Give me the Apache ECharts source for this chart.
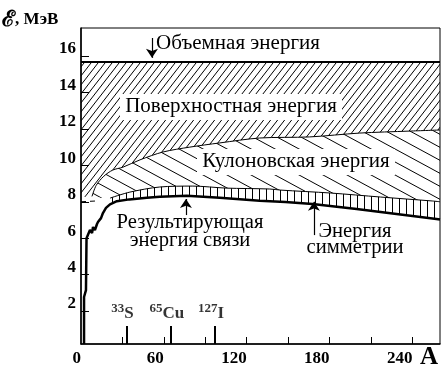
<!DOCTYPE html>
<html><head><meta charset="utf-8">
<script src="https://cdn.jsdelivr.net/npm/echarts@6/dist/echarts.min.js"></script>
<style>html,body{margin:0;padding:0;background:#fff}#c{width:447px;height:374px}</style>
</head><body><div id="c"></div>
<script>
// ---- data ----
const xTickValues = [30, 60, 90, 120, 150, 180, 210, 240];
const xLabelValues = [0, 60, 120, 180, 240];
const yTickValues = [2, 4, 6, 8, 10, 12, 14, 16];

const bulkA = [0, 260];
const bulkE = [15.68, 15.68];

const coulombA = [8, 11, 16.5, 23, 30.4, 42.7, 59.3, 78.8, 100.5, 129.4, 165.6, 201.7, 237.9, 260];
const coulombE = [8.3, 8.9, 9.4, 9.74, 9.9, 10.3, 10.73, 11.0, 11.23, 11.5, 11.56, 11.77, 11.88, 11.94];

const maskA = [0, 8, 14, 21];
const maskE = [8.25, 8.3, 8.22, 8.2];

const symA = [21, 35.4, 57, 81, 105, 136.7, 144.6, 180.6, 216.8, 254.8, 260];
const symE = [8.2, 8.53, 8.81, 8.86, 8.75, 8.7, 8.64, 8.48, 8.26, 8.04, 8.0];

const bindA = [2.2, 2.2, 3.6, 4.0, 4.3, 6.5, 8.0, 8.7, 10.1, 11.6, 12.3, 14.5, 15.9, 18.1, 21, 26, 35, 47.7, 57, 76.6, 100.5, 129.4, 148, 167.7, 199.6, 228.5, 257.4, 260];
const bindE = [0.19, 2.77, 3.15, 6.0, 6.06, 6.45, 6.28, 6.61, 6.45, 6.78, 6.89, 7.1, 7.38, 7.66, 7.86, 8.03, 8.13, 8.22, 8.28, 8.33, 8.22, 8.05, 7.99, 7.88, 7.6, 7.33, 7.05, 7.02];

const dashA = [0, 13];
const dashE = [8.0, 8.05];

const isoMass = ['33', '65', '127'];
const isoSym = ['S', 'Cu', 'I'];
const isoA = [33, 65, 97];
const isoTop = 1.18;

// arrows: A, from energy, to energy
const arrowA = [51.4, 76.0, 168.7];
const arrowFrom = [16.99, 7.27, 6.17];
const arrowTo = [15.9, 8.15, 8.0];

const Y_MIN = 0.19, Y_MAX = 17.54;

// ---- helpers ----
const pairs = (xs, ys) => xs.map((x, i) => [x, ys[i]]);
function pattern(w, h, draw) {
  const c = document.createElement('canvas');
  c.width = w; c.height = h;
  const g = c.getContext('2d');
  g.fillStyle = '#fff'; g.fillRect(0, 0, w, h);
  g.strokeStyle = '#000'; g.fillStyle = '#000'; g.lineWidth = 1;
  draw(g, w, h);
  return { image: c, repeat: 'repeat' };
}
const hatchSurface = pattern(7, 9, (g, w, h) => {
  for (const dy of [-h, 0, h]) { g.beginPath(); g.moveTo(-w, 2 * h + dy); g.lineTo(2 * w, -h + dy); g.stroke(); }
});
const hatchCoulomb = pattern(24, 13, (g, w, h) => {
  for (const dy of [-h, 0, h]) { g.beginPath(); g.moveTo(-w, -h + dy); g.lineTo(2 * w, 2 * h + dy); g.stroke(); }
});
const hatchSym = pattern(7, 4, (g, w, h) => { g.fillRect(0, 0, 1, h); });

const FONT = 'Liberation Serif';
const blk = '#000';
const txt = (text, x, y, size, extra, sx) => ({
  type: 'text', z: 100, x: x, y: y, scaleX: sx || 1,
  style: Object.assign({ text: text, fontFamily: FONT, fontSize: size, fill: blk, align: 'center', verticalAlign: 'middle' }, extra || {})
});

const chart = echarts.init(document.getElementById('c'), null, { renderer: 'canvas' });
chart.setOption({
  animation: false,
  backgroundColor: '#fff',
  grid: { left: 81, right: 7, top: 28, bottom: 30, show: true, borderColor: blk, borderWidth: 1, z: 10 },
  xAxis: {
    type: 'value', min: 0, max: 260, z: 10,
    axisLine: { show: true, onZero: false, lineStyle: { color: blk, width: 1.5 } },
    axisTick: { show: true, inside: true, length: 7, customValues: xTickValues, lineStyle: { color: blk, width: 1 } },
    axisLabel: { customValues: xLabelValues, align: 'right', margin: 6, color: blk, fontFamily: FONT, fontWeight: 'bold', fontSize: 17 },
    splitLine: { show: false }
  },
  yAxis: {
    type: 'value', min: Y_MIN, max: Y_MAX, z: 10,
    axisLine: { show: true, onZero: false, lineStyle: { color: blk, width: 1.5 } },
    axisTick: { show: true, inside: true, length: 8, customValues: yTickValues, lineStyle: { color: blk, width: 1 } },
    axisLabel: { customValues: yTickValues, verticalAlign: 'bottom', lineHeight: 14, margin: 5, color: blk, fontFamily: FONT, fontWeight: 'bold', fontSize: 17 },
    splitLine: { show: false }
  },
  series: [
    { type: 'line', name: 'surface', data: pairs(bulkA, bulkE), symbol: 'none', silent: true,
      lineStyle: { color: blk, width: 2 }, areaStyle: { color: hatchSurface, opacity: 1, origin: 'start' } },
    { type: 'line', name: 'coulomb', data: pairs(coulombA, coulombE), symbol: 'none', smooth: 0.3, silent: true,
      lineStyle: { color: blk, width: 1 }, areaStyle: { color: hatchCoulomb, opacity: 1, origin: 'start' } },
    { type: 'line', name: 'symmetry', data: pairs(symA, symE), symbol: 'none', smooth: 0.3, silent: true,
      lineStyle: { color: blk, width: 1 }, areaStyle: { color: hatchSym, opacity: 1, origin: 'start' } },
    { type: 'line', name: 'mask', data: pairs(maskA, maskE), symbol: 'none', silent: true,
      lineStyle: { width: 0 }, areaStyle: { color: '#fff', opacity: 1, origin: 'start' } },
    { type: 'line', name: 'binding', data: pairs(bindA, bindE), symbol: 'none', silent: true,
      lineStyle: { color: blk, width: 2.5 }, areaStyle: { color: '#fff', opacity: 1, origin: 'start' } },
    { type: 'line', name: 'dash', data: pairs(dashA, dashE), symbol: 'none', silent: true,
      lineStyle: { color: blk, width: 1, type: [5, 4] } },
    { type: 'line', name: 'marks', data: [], silent: true, z: 5,
      markLine: {
        silent: true, symbol: ['none', 'none'], label: { show: false }, animation: false,
        lineStyle: { color: blk, width: 2, type: 'solid' },
        data: isoA.map(a => [{ coord: [a, Y_MIN] }, { coord: [a, isoTop] }])
      } },
    { type: 'line', name: 'arrows', data: [], silent: true, z: 5,
      markLine: {
        silent: true, symbol: ['none', 'arrow'], symbolSize: 9, label: { show: false }, animation: false,
        lineStyle: { color: blk, width: 1.2, type: 'solid' },
        data: arrowA.map((a, i) => [{ coord: [a, arrowFrom[i]] }, { coord: [a, arrowTo[i]] }])
      } },
    { type: 'scatter', name: 'isotopes', silent: true, symbolSize: 1, z: 6,
      itemStyle: { color: 'rgba(0,0,0,0)' },
      data: isoA.map((a, i) => ({ value: [a, isoTop], m: isoMass[i], s: isoSym[i] })),
      label: { show: true, position: 'top', distance: 3, offset: [-4, 0],
        formatter: p => '{m|' + p.data.m + '}{s|' + p.data.s + '}',
        rich: {
          m: { fontFamily: FONT, fontWeight: 'bold', fontSize: 13, color: blk, verticalAlign: 'top', lineHeight: 20 },
          s: { fontFamily: FONT, fontWeight: 'bold', fontSize: 17, color: blk, verticalAlign: 'bottom', lineHeight: 20 }
        } } }
  ],
  graphic: [
    { type: 'text', z: 100, x: 2, y: 20,
      style: { text: '{e|ℰ}{t|, МэВ}', align: 'left', verticalAlign: 'middle', fill: blk,
        rich: { e: { fontFamily: FONT, fontWeight: 'bold', fontSize: 22, fill: blk },
                t: { fontFamily: FONT, fontWeight: 'bold', fontSize: 17, fill: blk } } } },
    txt('A', 429, 358, 25, { fontWeight: 'bold' }),
    txt('Объемная энергия', 238, 44, 20, null, 1.05),
    txt('Поверхностная энергия', 231, 107, 20, { backgroundColor: '#fff', padding: [3, 5] }, 1.05),
    txt('Кулоновская энергия', 296, 162, 20, { backgroundColor: '#fff', padding: [3, 5] }, 1.05),
    txt('Результирующая\nэнергия связи', 190, 232, 20, { lineHeight: 18 }, 1.03),
    txt('Энергия\nсимметрии', 355, 240, 20, { lineHeight: 16 }, 1.03)
  ]
});
</script></body></html>
